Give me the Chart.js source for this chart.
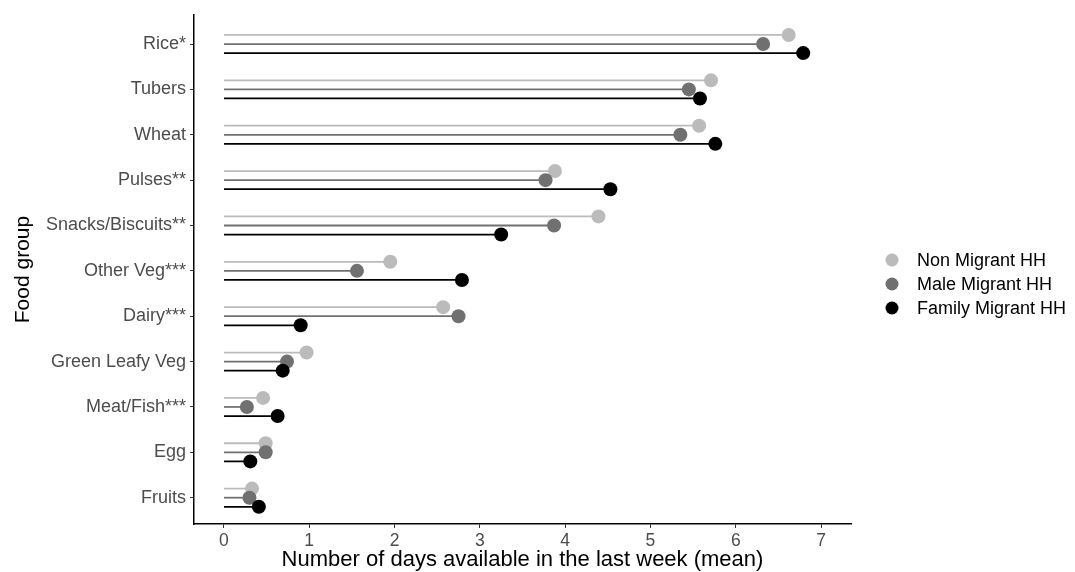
<!DOCTYPE html>
<html>
<head>
<meta charset="utf-8">
<script src="https://cdn.jsdelivr.net/npm/chart.js@4.4.1/dist/chart.umd.min.js"></script>
<style>
  html, body { margin: 0; padding: 0; background: #fff; }
  #wrap { width: 1075px; height: 572px; }
</style>
</head>
<body>
<div id="wrap"><canvas id="lollipop" width="1075" height="572"></canvas></div>
<script>
// データ
const foodGroups = ['Rice*', 'Tubers', 'Wheat', 'Pulses**', 'Snacks/Biscuits**', 'Other Veg***',
  'Dairy***', 'Green Leafy Veg', 'Meat/Fish***', 'Egg', 'Fruits'];
const nonMigrant    = [6.62, 5.71, 5.57, 3.88, 4.39, 1.95, 2.57, 0.97, 0.46, 0.49, 0.33];
const maleMigrant   = [6.32, 5.45, 5.35, 3.77, 3.87, 1.56, 2.75, 0.74, 0.27, 0.49, 0.30];
const familyMigrant = [6.79, 5.58, 5.76, 4.53, 3.25, 2.79, 0.90, 0.69, 0.63, 0.31, 0.41];
const seriesNames = ['Non Migrant HH', 'Male Migrant HH', 'Family Migrant HH'];
const xTicks = [0, 1, 2, 3, 4, 5, 6, 7];

const FONT = 'Arial, "Liberation Sans", sans-serif';

// 系列ごとの見た目（色・上下のずらし）
const series = [
  { name: seriesNames[0], values: nonMigrant,    color: '#bbbbbb', shift: -0.2, order: 3 },
  { name: seriesNames[1], values: maleMigrant,   color: '#707070', shift: 0,    order: 2 },
  { name: seriesNames[2], values: familyMigrant, color: '#000000', shift: 0.2,  order: 1 }
];

const datasets = [];
series.forEach(s => {
  const pts = s.values.map((v, i) => ({ x: v, y: i + s.shift }));
  // 棒（細い線）
  datasets.push({
    type: 'bar',
    label: s.name + ' stem',
    data: pts,
    indexAxis: 'y',
    grouped: false,
    barThickness: 1.1,
    backgroundColor: s.color,
    borderWidth: 0,
    order: 10
  });
  // 点
  datasets.push({
    type: 'scatter',
    label: s.name,
    data: pts,
    pointRadius: 7,
    pointHoverRadius: 7,
    pointBackgroundColor: s.color,
    pointBorderWidth: 0,
    order: s.order
  });
});

// 凡例は自前で描く
const sideLegend = {
  id: 'sideLegend',
  afterDraw(chart) {
    const ctx = chart.ctx;
    const items = chart.data.datasets.filter(d => d.type === 'scatter');
    ctx.save();
    ctx.font = '18px ' + FONT;
    ctx.textBaseline = 'middle';
    items.forEach((d, i) => {
      const y = 260 + i * 24;
      ctx.beginPath();
      ctx.fillStyle = d.pointBackgroundColor;
      ctx.arc(892, y, 6.5, 0, Math.PI * 2);
      ctx.fill();
      ctx.fillStyle = '#000';
      ctx.fillText(d.label, 917, y + 1);
    });
    ctx.restore();
  }
};

const ctx = document.getElementById('lollipop').getContext('2d');
new Chart(ctx, {
  type: 'bar',
  data: { datasets: datasets },
  plugins: [sideLegend],
  options: {
    responsive: false,
    animation: false,
    layout: { padding: { top: 15, right: 224, bottom: 0, left: 0 } },
    plugins: { legend: { display: false }, tooltip: { enabled: false } },
    scales: {
      x: {
        type: 'linear',
        offset: false,
        min: -0.35,
        max: 7.35,
        afterBuildTicks: scale => { scale.ticks = xTicks.map(v => ({ value: v })); },
        afterFit: scale => { scale.height = 48; },
        grid: { offset: false, drawOnChartArea: false, drawTicks: true, tickLength: 4, color: '#333' },
        border: { display: true, color: '#000', width: 1.5 },
        ticks: { color: '#4d4d4d', font: { family: FONT, size: 17.5 }, padding: 3 },
        title: {
          display: true,
          text: 'Number of days available in the last week (mean)',
          color: '#000',
          font: { family: FONT, size: 22, lineHeight: 1.1 },
          padding: { top: 0, bottom: 0 }
        }
      },
      y: {
        type: 'linear',
        offset: false,
        reverse: true,
        min: -0.64,
        max: 10.58,
        afterBuildTicks: scale => { scale.ticks = foodGroups.map((c, i) => ({ value: i })); },
        afterFit: scale => { scale.width = 194; },
        grid: { offset: false, drawOnChartArea: false, drawTicks: true, tickLength: 4, color: '#333' },
        border: { display: true, color: '#000', width: 1.5 },
        ticks: {
          color: '#4d4d4d',
          font: { family: FONT, size: 18 },
          padding: 4,
          callback: v => foodGroups[v]
        },
        title: {
          display: true,
          text: 'Food group',
          color: '#000',
          font: { family: FONT, size: 21, lineHeight: 1.2 },
          padding: { top: 11, bottom: 0 }
        }
      }
    }
  }
});
</script>
</body>
</html>
